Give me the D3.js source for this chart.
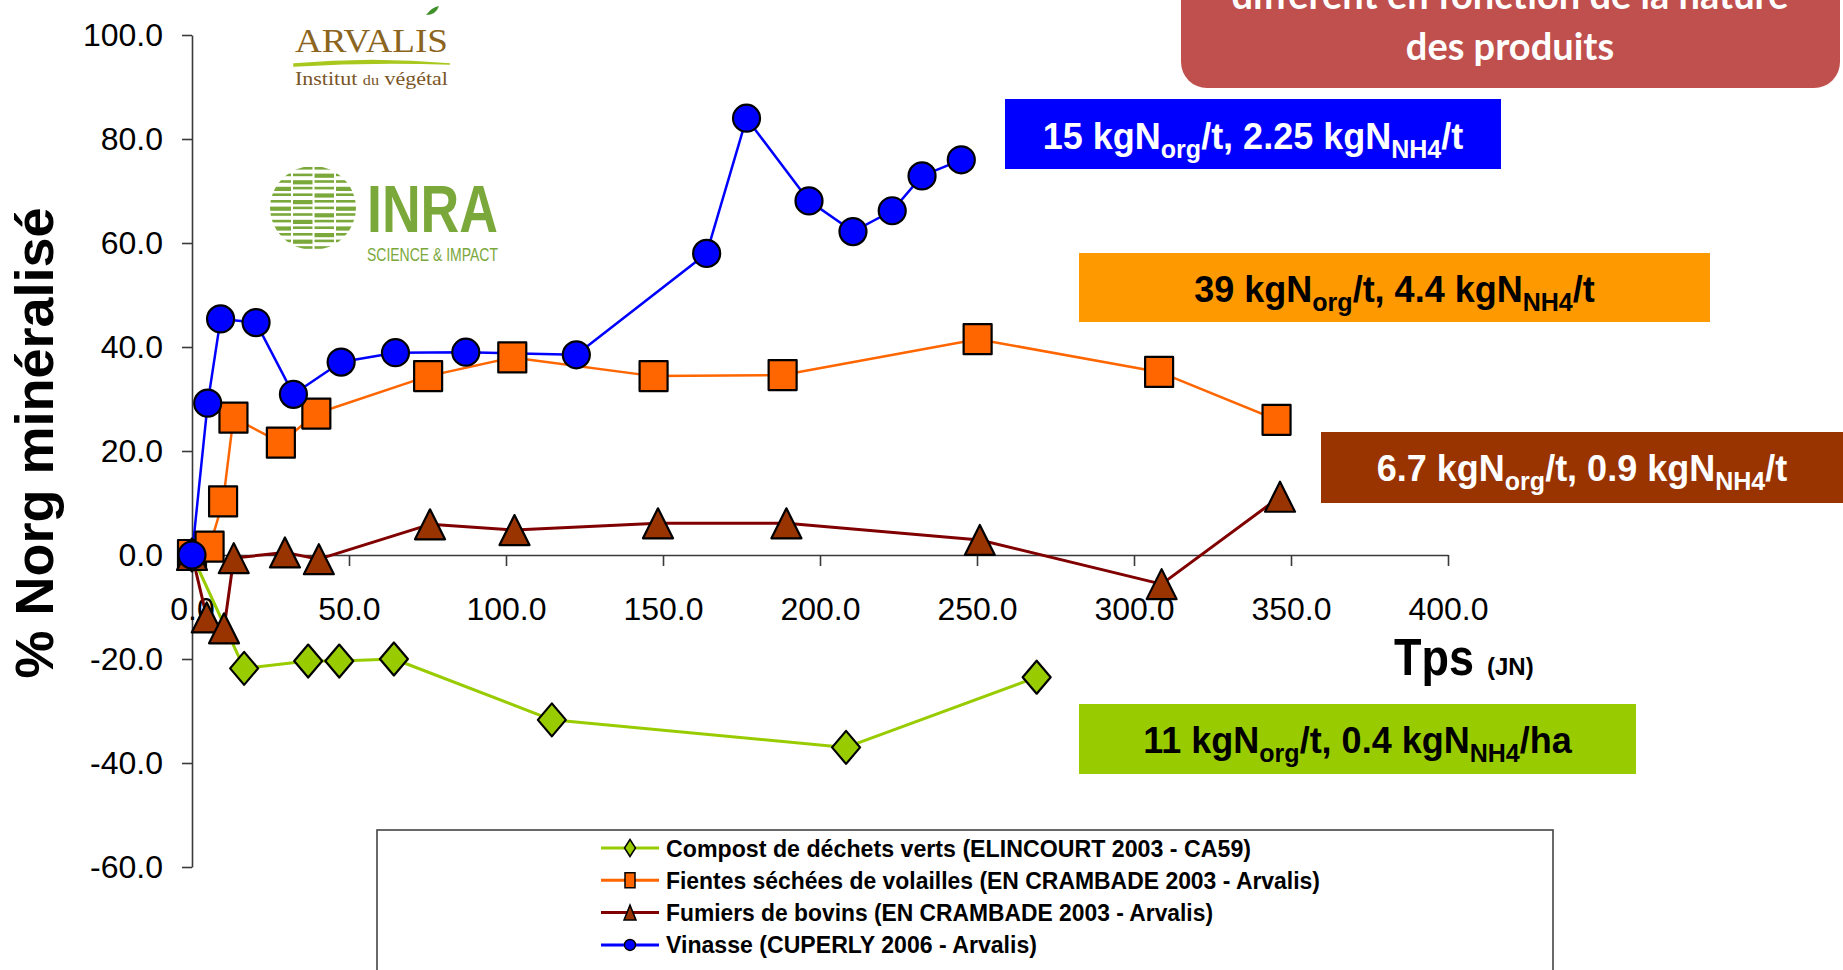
<!DOCTYPE html>
<html>
<head>
<meta charset="utf-8">
<script src="https://cdn.jsdelivr.net/npm/d3@7"></script>
<style>
  html, body { margin: 0; padding: 0; background: #fff; overflow: hidden; }
  svg { display: block; }
</style>
</head>
<body>
<svg id="chart" width="1843" height="970"></svg>
<script>
// ---- Axis ticks ----
const xTicks = [0, 50, 100, 150, 200, 250, 300, 350, 400];
const yTicks = [-60, -40, -20, 0, 20, 40, 60, 80, 100];

// ---- Series: days (Tps, JN) and % of organic N mineralised ----
const compostNames = "Compost de déchets verts (ELINCOURT 2003 - CA59)";
const compostX = [0, 16.6, 37.0, 46.9, 64.3, 114.6, 208.3, 269.0];
const compostY = [0, -21.8, -20.4, -20.4, -20.0, -31.7, -37.0, -23.5];

const fientesName = "Fientes séchées de volailles (EN CRAMBADE 2003 - Arvalis)";
const fientesX = [0, 5.6, 9.9, 13.2, 28.3, 39.6, 75.2, 102.0, 147.0, 188.1, 250.2, 308.0, 345.4];
const fientesY = [0, 1.6, 10.3, 26.4, 21.6, 27.2, 34.4, 38.0, 34.4, 34.6, 41.5, 35.2, 26.0];

const fumiersName = "Fumiers de bovins (EN CRAMBADE 2003 - Arvalis)";
const fumiersX = [0, 4.7, 10.2, 13.3, 29.6, 40.4, 75.8, 102.7, 148.4, 189.3, 250.9, 308.8, 346.5];
const fumiersY = [0, -12.0, -14.1, -0.6, 0.5, -0.8, 5.9, 4.8, 6.1, 6.1, 2.9, -5.6, 11.2];

const vinasseName = "Vinasse (CUPERLY 2006 - Arvalis)";
const vinasseX = [0, 5.0, 9.1, 20.4, 32.3, 47.5, 64.8, 87.2, 122.4, 163.9, 176.6, 196.5, 210.5, 223.0, 232.5, 245.0];
const vinasseY = [0, 29.2, 45.4, 44.7, 30.9, 37.1, 38.9, 39.0, 38.5, 58.0, 84.0, 68.1, 62.2, 66.2, 72.9, 76.0];

// ---- Product composition labels (even parts normal, odd parts subscript) ----
const vinasseLabel = ["15 kgN", "org", "/t, 2.25 kgN", "NH4", "/t"];
const fientesLabel = ["39 kgN", "org", "/t, 4.4 kgN", "NH4", "/t"];
const fumiersLabel = ["6.7 kgN", "org", "/t, 0.9 kgN", "NH4", "/t"];
const compostLabel = ["11 kgN", "org", "/t, 0.4 kgN", "NH4", "/ha"];

const titleLines = ["différent en fonction de la nature", "des produits"];

// ---- Build series table ----
const zip = (xs, ys) => xs.map((x, i) => ({ x, y: ys[i] }));
const series = [
  { name: compostNames, pts: zip(compostX, compostY), line: "#99CC00", fill: "#99CC00", shape: "diamond", lw: 3 },
  { name: fientesName,  pts: zip(fientesX, fientesY), line: "#FF6600", fill: "#FF6600", shape: "square",  lw: 2.5 },
  { name: fumiersName,  pts: zip(fumiersX, fumiersY), line: "#800000", fill: "#993300", shape: "triangle", lw: 3 },
  { name: vinasseName,  pts: zip(vinasseX, vinasseY), line: "#0000FF", fill: "#0000FF", shape: "circle",  lw: 2.5 }
];

const svg = d3.select("#chart");
svg.append("rect").attr("width", 1843).attr("height", 970).attr("fill", "#fff");

const x = d3.scaleLinear().domain([0, 400]).range([192, 1448]);
const y = d3.scaleLinear().domain([-60, 100]).range([867, 35]);

const SANS = "'Liberation Sans', Arial, sans-serif";
// one decimal, plain hyphen for negatives
const fmt = d => d3.format(".1f")(d).replace("\u2212", "-");

// ---- Logos (top-left of plot) ----
const logo = svg.append("g");
logo.append("text").attr("x", 295).attr("y", 52)
  .attr("font-family", "'Liberation Serif', 'DejaVu Serif', serif")
  .attr("font-size", 34).attr("fill", "#8B6420")
  .attr("textLength", 153).attr("lengthAdjust", "spacingAndGlyphs")
  .text("ARVALIS");
logo.append("path")
  .attr("d", "M426,15 q6,-8 13,-9 q-3,9 -13,9 z")
  .attr("fill", "#3F8F2A");
logo.append("path")
  .attr("d", "M294,64 Q372,57 450,64 Q372,61 294,66 z")
  .attr("fill", "#A8C81E").attr("stroke", "#A8C81E").attr("stroke-width", 1.5);
const inst = logo.append("text").attr("x", 295).attr("y", 85)
  .attr("font-family", "'Liberation Serif', 'DejaVu Serif', serif")
  .attr("font-size", 19).attr("fill", "#7A5526")
  .attr("textLength", 153).attr("lengthAdjust", "spacingAndGlyphs");
inst.append("tspan").text("Institut ");
inst.append("tspan").attr("font-size", 14).text("du");
inst.append("tspan").text(" végétal");

// INRA striped disc
const inraG = "#7BA83A";
const defs = svg.append("defs");
defs.append("clipPath").attr("id", "inraDisc")
  .append("ellipse").attr("cx", 313).attr("cy", 208).attr("rx", 43).attr("ry", 42);
const disc = logo.append("g").attr("clip-path", "url(#inraDisc)");
const colEdges = [268, 292, 313.5, 335, 358];
for (let r = 0; r < 13; r++) {
  const yy = 167 + r * 6.6;
  for (let c = 0; c < colEdges.length - 1; c++) {
    const thick = (r + c) % 3 === 0 ? 4.2 : 2.6;
    disc.append("rect")
      .attr("x", colEdges[c] + 1).attr("y", yy)
      .attr("width", colEdges[c + 1] - colEdges[c] - 2).attr("height", thick)
      .attr("fill", inraG);
  }
}
logo.append("text").attr("x", 367).attr("y", 232)
  .attr("font-family", SANS).attr("font-weight", "bold").attr("font-size", 67).attr("fill", inraG)
  .attr("textLength", 131).attr("lengthAdjust", "spacingAndGlyphs")
  .text("INRA");
logo.append("text").attr("x", 367).attr("y", 261)
  .attr("font-family", SANS).attr("font-size", 19).attr("fill", inraG)
  .attr("textLength", 131).attr("lengthAdjust", "spacingAndGlyphs")
  .text("SCIENCE & IMPACT");

// ---- Axes ----
const yAxis = svg.append("g").attr("transform", `translate(${x(0)},0)`)
  .call(d3.axisLeft(y).tickValues(yTicks).tickFormat(fmt)
    .tickSize(10).tickSizeOuter(0).tickPadding(19));
const xAxis = svg.append("g").attr("transform", `translate(0,${y(0)})`)
  .call(d3.axisBottom(x).tickValues(xTicks).tickFormat(fmt)
    .tickSize(11).tickSizeOuter(0).tickPadding(31));
[xAxis, yAxis].forEach(a => {
  a.select(".domain").attr("stroke", "#3a3a3a").attr("stroke-width", 1.6);
  a.selectAll(".tick line").attr("stroke", "#3a3a3a").attr("stroke-width", 1.6);
  a.selectAll(".tick text").attr("font-family", SANS).attr("font-size", 32).attr("fill", "#000");
});

// Axis titles
svg.append("text")
  .attr("transform", "translate(53,443) rotate(-90)")
  .attr("text-anchor", "middle")
  .attr("font-family", SANS).attr("font-weight", "bold").attr("font-size", 54)
  .attr("fill", "#000")
  .text("% Norg minéralisé");
svg.append("text").attr("x", 1394).attr("y", 675)
  .attr("font-family", SANS).attr("font-weight", "bold").attr("font-size", 52)
  .attr("textLength", 80).attr("lengthAdjust", "spacingAndGlyphs")
  .text("Tps");
svg.append("text").attr("x", 1487).attr("y", 675)
  .attr("font-family", SANS).attr("font-weight", "bold").attr("font-size", 24)
  .text("(JN)");

// ---- Marker shapes ----
function markerPath(shape, w, h) {
  const a = w / 2, b = h / 2;
  switch (shape) {
    case "diamond":  return `M0,${-b}L${a},0L0,${b}L${-a},0Z`;
    case "square":   return `M${-a},${-b}H${a}V${b}H${-a}Z`;
    case "triangle": return `M0,${-b}L${a},${b}L${-a},${b}Z`;
    default:         return d3.arc()({ innerRadius: 0, outerRadius: a, startAngle: 0, endAngle: 2 * Math.PI });
  }
}
const markerSize = { diamond: [28, 33], square: [28, 30], triangle: [30, 30], circle: [27, 27] };

// ---- Lines (all under markers) ----
const line = d3.line().x(d => x(d.x)).y(d => y(d.y));
const plot = svg.append("g");
series.forEach(s => {
  plot.append("path").datum(s.pts)
    .attr("d", line).attr("fill", "none")
    .attr("stroke", s.line).attr("stroke-width", s.lw).attr("stroke-linejoin", "round");
});
series.forEach(s => {
  const [w, h] = markerSize[s.shape];
  plot.append("g").selectAll("path").data(s.pts).join("path")
    .attr("transform", d => `translate(${x(d.x)},${y(d.y)})`)
    .attr("d", markerPath(s.shape, w, h))
    .attr("fill", s.fill).attr("stroke", "#000").attr("stroke-width", 2.2)
    .attr("stroke-linejoin", "round");
});

// ---- Product labels ----
function richLabel(g, parts, cx, baseline, color) {
  const t = g.append("text").attr("x", cx).attr("y", baseline)
    .attr("text-anchor", "middle").attr("font-family", SANS)
    .attr("font-weight", "bold").attr("font-size", 36).attr("fill", color);
  parts.forEach((p, i) => {
    const sub = i % 2 === 1;
    t.append("tspan")
      .attr("font-size", sub ? 25 : 36)
      .attr("dy", i === 0 ? 0 : (sub ? 9 : -9))
      .text(p);
  });
}
const boxes = [
  { parts: vinasseLabel, x0: 1005, x1: 1501, y0: 99,  y1: 169, bg: "#0000FF", fg: "#FFFFFF", dy: 15 },
  { parts: fientesLabel, x0: 1079, x1: 1710, y0: 253, y1: 322, bg: "#FF9900", fg: "#000000", dy: 14 },
  { parts: fumiersLabel, x0: 1321, x1: 1843, y0: 432, y1: 503, bg: "#993300", fg: "#FFFFFF", dy: 13, cx: 1582 },
  { parts: compostLabel, x0: 1079, x1: 1636, y0: 704, y1: 774, bg: "#99CC00", fg: "#000000", dy: 14 }
];
const lab = svg.append("g");
boxes.forEach(b => {
  lab.append("rect").attr("x", b.x0).attr("y", b.y0)
    .attr("width", b.x1 - b.x0).attr("height", b.y1 - b.y0).attr("fill", b.bg);
  const cx = b.cx !== undefined ? b.cx : (b.x0 + b.x1) / 2;
  richLabel(lab, b.parts, cx, (b.y0 + b.y1) / 2 + b.dy, b.fg);
});

// ---- Heading panel (top right) ----
svg.append("rect").attr("x", 1181).attr("y", -40).attr("width", 659).attr("height", 128)
  .attr("rx", 26).attr("fill", "#C0504D");
titleLines.forEach((t, i) => {
  svg.append("text").attr("x", 1510).attr("y", 9 + i * 51)
    .attr("text-anchor", "middle").attr("font-family", "Lato, 'Open Sans', sans-serif")
    .attr("font-weight", "bold").attr("font-size", 38).attr("fill", "#fff")
    .text(t);
});

// ---- Legend ----
const leg = svg.append("g");
leg.append("rect").attr("x", 377).attr("y", 830).attr("width", 1176).attr("height", 200)
  .attr("fill", "#fff").attr("stroke", "#444").attr("stroke-width", 1.6);
const legText = [585, 654, 547, 371];
const legSize = { diamond: [11, 17], square: [10, 15], triangle: [12, 15], circle: [11, 11] };
series.forEach((s, i) => {
  const yy = 848 + i * 32.3;
  leg.append("line").attr("x1", 601).attr("x2", 659).attr("y1", yy).attr("y2", yy)
    .attr("stroke", s.line).attr("stroke-width", 3);
  const [w, h] = legSize[s.shape];
  leg.append("path").attr("transform", `translate(630,${yy})`)
    .attr("d", markerPath(s.shape, w, h))
    .attr("fill", s.fill).attr("stroke", "#000").attr("stroke-width", 1.5);
  leg.append("text").attr("x", 666).attr("y", yy + 8.5)
    .attr("font-family", SANS).attr("font-weight", "bold").attr("font-size", 23)
    .attr("textLength", legText[i]).attr("lengthAdjust", "spacingAndGlyphs")
    .text(s.name);
});
</script>
</body>
</html>
